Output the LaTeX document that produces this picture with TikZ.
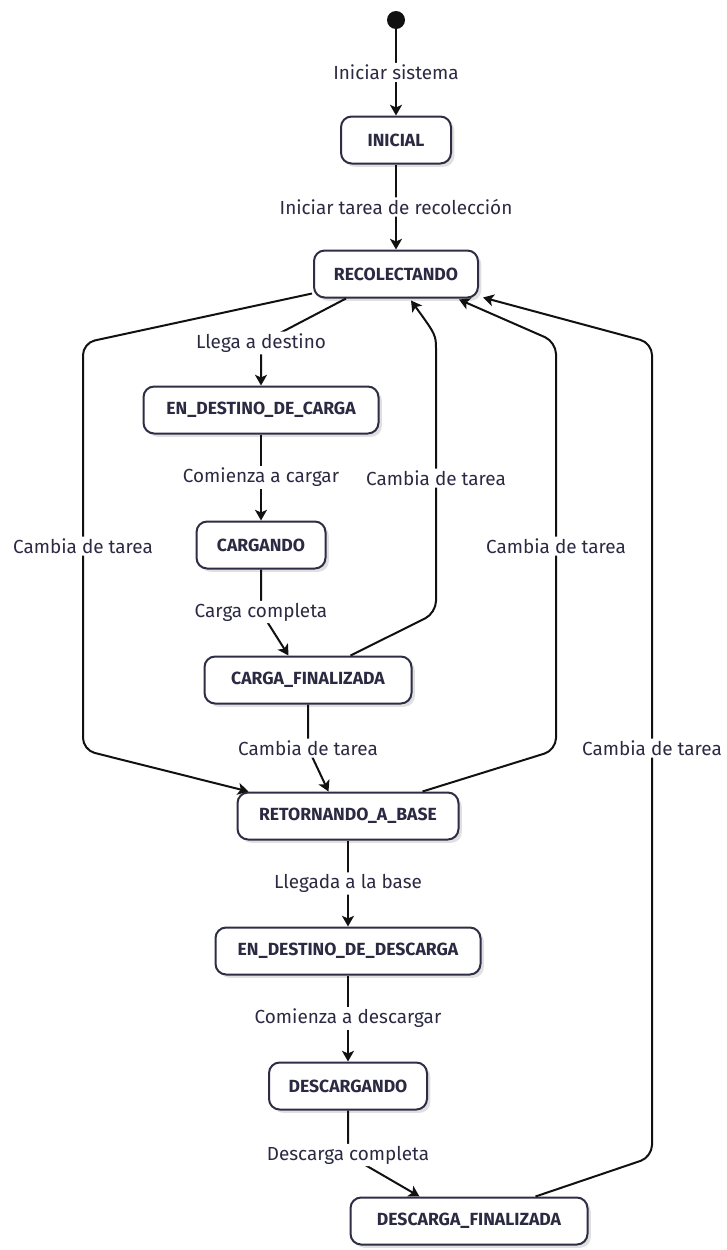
\documentclass[tikz,border=0pt]{standalone}
\usepackage{fontspec}
\setmainfont{Fira Sans}
\usetikzlibrary{arrows.meta,calc,shadows}

\definecolor{ink}{HTML}{2B2A42}
\definecolor{frame}{HTML}{2D2D46}
\definecolor{wire}{HTML}{111111}

\begin{document}
\begin{tikzpicture}[
  x=0.75pt, y=-0.75pt,
  state/.style={draw=frame, line width=1.5pt, fill=white, rounded corners=8pt,
    minimum height=35.25pt, inner sep=0pt, text=ink,
    font=\fontsize{13.2}{15}\selectfont\bfseries,
    drop shadow={shadow xshift=2.5pt, shadow yshift=-2.5pt, opacity=0.12, fill=black}},
  startdot/.style={circle, fill=wire, minimum size=13.5pt, inner sep=0pt},
  lbl/.style={fill=white, text=ink, inner sep=1.5pt, font=\fontsize{14.2}{16}\selectfont},
  edge/.style={draw=wire, line width=1.5pt, rounded corners=9pt,
    -{Stealth[length=8pt,width=9pt,inset=2pt]}},
]
\useasboundingbox (0,0) rectangle (726,1250);

% states
\node[startdot] (start) at (396,20) {};
\node[state, minimum width=82.5pt]  (inicial) at (396,140) {INICIAL};
\node[state, minimum width=123pt]   (recol)   at (396,274) {RECOLECTANDO};
\node[state, minimum width=176.25pt](edc)     at (261,410) {EN\_DESTINO\_DE\_CARGA};
\node[state, minimum width=96.75pt] (carg)    at (261,545) {CARGANDO};
\node[state, minimum width=155.25pt](cfin)    at (308,680) {CARGA\_FINALIZADA};
\node[state, minimum width=165.75pt](ret)     at (348,816) {RETORNANDO\_A\_BASE};
\node[state, minimum width=198.75pt](edd)     at (348,951) {EN\_DESTINO\_DE\_DESCARGA};
\node[state, minimum width=118.5pt] (desc)    at (348,1086) {DESCARGANDO};
\node[state, minimum width=177.75pt](dfin)    at (469,1221) {DESCARGA\_FINALIZADA};

% main flow
\draw[edge] (start) -- node[lbl] {Iniciar sistema} (inicial);
\draw[edge] (inicial) -- node[lbl] {Iniciar tarea de recolección} (recol);
\draw[edge] ($(recol.south west)+(33,0)$) -- (261,343) node[lbl] {Llega a destino} -- (edc);
\draw[edge] (edc) -- node[lbl] {Comienza a cargar} (carg);
\draw[edge] (carg) -- (261,612) node[lbl] {Carga completa} -- ($(cfin.north west)+(85,0)$);
\draw[edge] (cfin) -- (308,748) node[lbl] {Cambia de tarea} -- ($(ret.north west)+(92,0)$);
\draw[edge] (ret) -- node[lbl] {Llegada a la base} (edd);
\draw[edge] (edd) -- node[lbl] {Comienza a descargar} (desc);
\draw[edge] (desc) -- (348,1155) node[lbl] {Descarga completa} -- ($(dfin.north west)+(70,0)$);

% returns to RECOLECTANDO and the left bypass
\draw[edge] ($(recol.south west)+(-1,-5)$) -- (83,343) -- (83,546) node[lbl] {Cambia de tarea}
  -- (83,750) -- ($(ret.north west)+(12,0)$);
\draw[edge] ($(cfin.north west)+(147,0)$) -- (436,613) -- (436,478) node[lbl] {Cambia de tarea}
  -- (436,362) [rounded corners=0pt] .. controls (436,335) .. ($(recol.south west)+(98,2)$);
\draw[edge] ($(ret.north east)+(-37,0)$) -- (556,750) -- (556,546) node[lbl] {Cambia de tarea}
  -- (556,342) -- ($(recol.south east)+(-20,1)$);
\draw[edge] ($(dfin.north east)+(-53,0)$) -- (652,1157) -- (652,748) node[lbl] {Cambia de tarea}
  -- (652,343) -- ($(recol.south east)+(4,-1)$);
\end{tikzpicture}
\end{document}
